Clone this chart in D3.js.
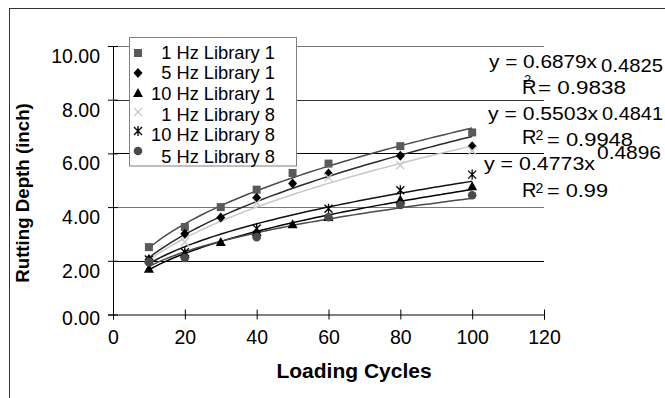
<!DOCTYPE html>
<html>
<head>
<meta charset="utf-8">
<script src="https://cdn.jsdelivr.net/npm/d3@7"></script>
<style>
  body { margin: 0; background: #fff; }
  svg { display: block; font-family: Arial, "Liberation Sans", sans-serif; }
</style>
</head>
<body>
<svg width="665" height="398"></svg>
<script>
// Data
let cyclesLib1 = [10, 20, 30, 40, 50, 60, 80, 100];
let cyclesLib8 = [10, 20, 40, 60, 80, 100];

let hz1Lib1  = [2.51, 3.26, 4.00, 4.65, 5.27, 5.62, 6.27, 6.78];
let hz5Lib1  = [2.05, 3.01, 3.61, 4.35, 4.88, 5.25, 5.91, 6.27];
let hz10Lib1 = [1.70, 2.26, 2.70, 3.07, 3.36, 3.63, 4.27, 4.78];
let hz1Lib8  = [2.05, 2.70, 4.15, 5.10, 5.56, 6.10];
let hz10Lib8 = [2.05, 2.32, 3.20, 3.94, 4.63, 5.21];
let hz5Lib8  = [1.95, 2.11, 2.88, 3.62, 4.08, 4.44];

let seriesNames = ['1 Hz Library 1', '5 Hz Library 1', '10 Hz Library 1',
                   '1 Hz Library 8', '10 Hz Library 8', '5 Hz Library 8'];

let yTicks = [0, 2, 4, 6, 8, 10];
let xTicks = [0, 20, 40, 60, 80, 100, 120];

// trendline labels as printed on the chart
let eqCoef = ['0.6879', '0.5503', '0.4773'];
let eqExp  = ['0.4825', '0.4841', '0.4896'];
let eqR2   = ['0.9838', '0.9948', '0.99'];

let series = [
  { name: seriesNames[0], x: cyclesLib1, y: hz1Lib1,  marker: 'square',   fill: '#5a5a5a', line: '#4a4a4a' },
  { name: seriesNames[1], x: cyclesLib1, y: hz5Lib1,  marker: 'diamond',  fill: '#000',    line: '#2a2a2a' },
  { name: seriesNames[2], x: cyclesLib1, y: hz10Lib1, marker: 'triangle', fill: '#000',    line: '#000' },
  { name: seriesNames[3], x: cyclesLib8, y: hz1Lib8,  marker: 'cross',    fill: '#c8c8c8', line: '#c8c8c8' },
  { name: seriesNames[4], x: cyclesLib8, y: hz10Lib8, marker: 'star',     fill: '#000',    line: '#111' },
  { name: seriesNames[5], x: cyclesLib8, y: hz5Lib8,  marker: 'circle',   fill: '#4a4a4a', line: '#4a4a4a' }
];

let svg = d3.select('svg');

// outer chart frame (runs off the right and bottom edge)
svg.append('rect')
  .attr('x', 9.5).attr('y', 8.5)
  .attr('width', 700).attr('height', 500)
  .attr('fill', 'none').attr('stroke', '#333');

let x = d3.scaleLinear().domain([0, 120]).range([113, 544]);
let y = d3.scaleLinear().domain([0, 10]).range([314.5, 46]);

// horizontal gridlines
let gridColor = { 10: '#777', 8: '#333', 6: '#000', 4: '#777', 2: '#000' };
svg.append('g').selectAll('line')
  .data(yTicks.filter(d => d > 0))
  .enter().append('line')
    .attr('x1', x(0)).attr('x2', x(120))
    .attr('y1', d => Math.round(y(d)) + 0.5).attr('y2', d => Math.round(y(d)) + 0.5)
    .attr('stroke', d => gridColor[d]).attr('stroke-width', 1);

// axes
let yAxis = svg.append('g')
  .attr('transform', `translate(${x(0)},0)`)
  .call(d3.axisLeft(y).tickValues(yTicks).tickFormat(d3.format('.2f')).tickSizeOuter(0).tickSize(5));

let xAxis = svg.append('g')
  .attr('transform', `translate(0,${y(0)})`)
  .call(d3.axisBottom(x).tickValues(xTicks).tickSizeOuter(0).tickSize(5));

[yAxis, xAxis].forEach(a => {
  a.select('.domain').attr('stroke', '#000');
  a.selectAll('.tick line').attr('stroke', '#000');
  a.selectAll('.tick text')
    .attr('fill', '#000')
    .style('font-size', '19.5px');
});
// ticks cross the axis lines
yAxis.selectAll('.tick line').attr('x1', -5).attr('x2', 5);
xAxis.selectAll('.tick line').attr('y1', -5).attr('y2', 5);
yAxis.selectAll('.tick text').attr('x', -13).attr('dy', '0.85em')
  .filter(d => d === 0).attr('dy', '0.5em');
xAxis.selectAll('.tick text').attr('y', 12).attr('dy', '0.9em');

// axis titles
svg.append('text')
  .attr('x', 354).attr('y', 378)
  .attr('text-anchor', 'middle')
  .style('font-size', '21px').style('font-weight', 'bold')
  .text('Loading Cycles');

svg.append('text')
  .attr('transform', 'translate(29,193) rotate(-90)')
  .attr('text-anchor', 'middle')
  .style('font-size', '18.7px').style('font-weight', 'bold')
  .text('Rutting Depth (inch)');

// power trendline y = a x^b, least squares on log-log like Excel
function powerFit(xs, ys) {
  let lx = xs.map(Math.log), ly = ys.map(Math.log);
  let mx = d3.mean(lx), my = d3.mean(ly);
  let b = d3.sum(lx, (v, i) => (v - mx) * (ly[i] - my)) / d3.sum(lx, v => (v - mx) * (v - mx));
  let a = Math.exp(my - b * mx);
  return { a: a, b: b };
}

let line = d3.line().x(d => x(d[0])).y(d => y(d[1]));

let lines = svg.append('g');
series.forEach(s => {
  let f = powerFit(s.x, s.y);
  let lo = d3.min(s.x), hi = d3.max(s.x);
  let pts = d3.range(0, 61).map(i => {
    let xv = lo + (hi - lo) * i / 60;
    return [xv, f.a * Math.pow(xv, f.b)];
  });
  lines.append('path')
    .attr('d', line(pts))
    .attr('fill', 'none')
    .attr('stroke', s.line)
    .attr('stroke-width', 1.5);
});

// marker drawing
function drawMarker(g, type, color) {
  if (type === 'square') {
    g.append('rect').attr('x', -4).attr('y', -4).attr('width', 8).attr('height', 8).attr('fill', color);
  } else if (type === 'diamond') {
    g.append('path').attr('d', 'M0,-5L4.5,0L0,5L-4.5,0Z').attr('fill', color);
  } else if (type === 'triangle') {
    g.append('path').attr('d', 'M0,-5L5,4L-5,4Z').attr('fill', color);
  } else if (type === 'circle') {
    g.append('circle').attr('r', 4.3).attr('fill', color);
  } else if (type === 'cross') {
    g.append('path').attr('d', 'M-4,-4L4,4M-4,4L4,-4').attr('stroke', color).attr('stroke-width', 1.3).attr('fill', 'none');
  } else if (type === 'star') {
    g.append('path').attr('d', 'M-4,-4L4,4M-4,4L4,-4M0,-5L0,5').attr('stroke', color).attr('stroke-width', 1.3).attr('fill', 'none');
  }
}

// points, in legend order so library 8 markers sit on top
series.forEach(s => {
  let g = svg.append('g');
  s.x.forEach((xv, i) => {
    let m = g.append('g').attr('transform', `translate(${x(xv)},${y(s.y[i])})`);
    drawMarker(m, s.marker, s.fill);
  });
});

// legend
let legend = svg.append('g');
legend.append('rect')
  .attr('x', 129.5).attr('y', 37.5)
  .attr('width', 167).attr('height', 128.5)
  .attr('fill', '#fff').attr('stroke', '#808080');

let legendRowY = [53, 73, 93, 112, 131, 151];
let legendTextY = [58.5, 78.5, 100, 120.5, 140.5, 163];
series.forEach((s, i) => {
  let m = legend.append('g').attr('transform', `translate(138,${legendRowY[i]})`);
  drawMarker(m, s.marker, s.fill);
  legend.append('text')
    .attr('x', 275).attr('y', legendTextY[i])
    .attr('text-anchor', 'end')
    .style('font-size', '18.3px')
    .text(s.name);
});

// trendline equations (text widths forced to match the original's wider type)
let eqs = svg.append('g').style('font-size', '19px');
let eqMain = [{ x: 489, y: 68, w: 108 }, { x: 488, y: 120, w: 110 }, { x: 484, y: 170, w: 111 }];
let eqPow  = [{ x: 601, y: 72, w: 62 },  { x: 602, y: 120, w: 61 },  { x: 597, y: 158.5, w: 64 }];
let eqR    = [{ x: 522, y: 94 }, { x: 522, y: 144 }, { x: 522, y: 197 }];
let eqSup  = [{ x: 524, y: 84, fs: 13 }, { x: 535.5, y: 139.5, fs: 14 }, { x: 535.5, y: 193, fs: 14 }];
let eqVal  = [{ x: 538, y: 94, w: 88 }, { x: 547, y: 145.5, w: 86 }, { x: 547, y: 197, w: 61 }];

function fitText(t, w) {
  t.attr('textLength', w).attr('lengthAdjust', 'spacingAndGlyphs');
}

eqCoef.forEach((c, i) => {
  fitText(eqs.append('text').attr('x', eqMain[i].x).attr('y', eqMain[i].y).text(`y = ${c}x`), eqMain[i].w);
  fitText(eqs.append('text').attr('x', eqPow[i].x).attr('y', eqPow[i].y).text(eqExp[i]), eqPow[i].w);
  eqs.append('text').attr('x', eqR[i].x).attr('y', eqR[i].y).style('font-size', '20px').text('R');
  eqs.append('text').attr('x', eqSup[i].x).attr('y', eqSup[i].y)
    .style('font-size', eqSup[i].fs + 'px').text('2');
  fitText(eqs.append('text').attr('x', eqVal[i].x).attr('y', eqVal[i].y).text(`= ${eqR2[i]}`), eqVal[i].w);
});
</script>
</body>
</html>
